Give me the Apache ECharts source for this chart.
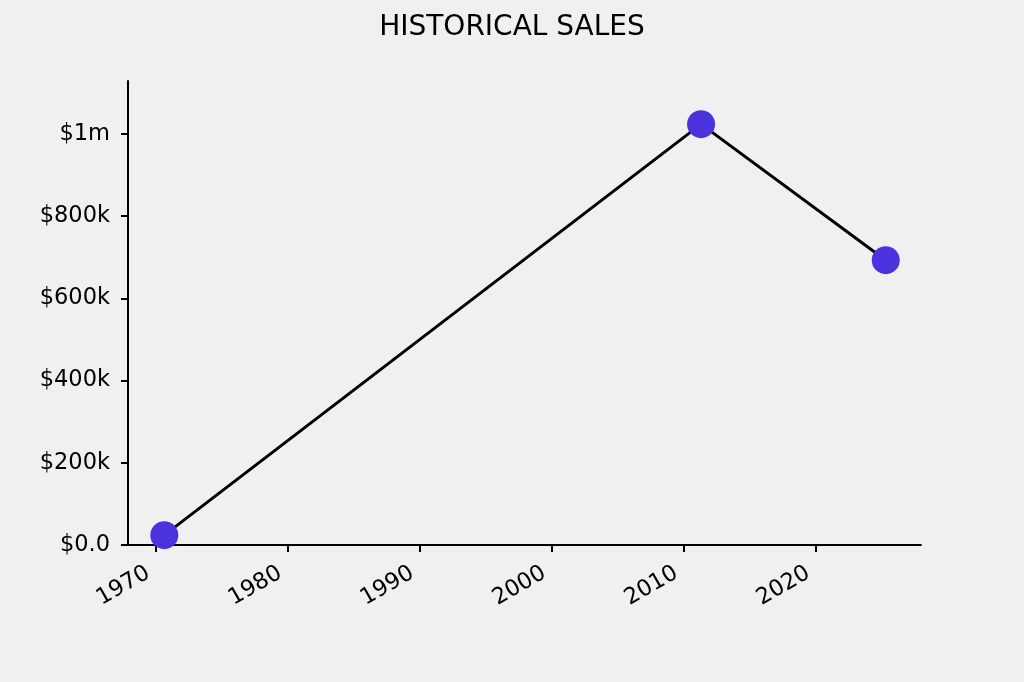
<!DOCTYPE html>
<html>
<head>
<meta charset="utf-8">
<script src="https://cdn.jsdelivr.net/npm/echarts@6/dist/echarts.min.js"></script>
<style>
html,body{margin:0;padding:0;background:#f0f0f0;}
#c{width:1024px;height:682px;}
</style>
</head>
<body>
<div id="c"></div>
<script>
const years = [1970.63, 2011.29, 2025.28];
const sales = [24000, 1024000, 693000];
const xTicks = [1970, 1980, 1990, 2000, 2010, 2020];
const yTicks = [0, 200000, 400000, 600000, 800000, 1000000];
const yTickLabels = ['$0.0', '$200k', '$400k', '$600k', '$800k', '$1m'];
const titleText = 'HISTORICAL SALES';

const font = 'DejaVu Sans';
const chart = echarts.init(document.getElementById('c'), null, {renderer: 'canvas'});
chart.setOption({
  backgroundColor: '#f0f0f0',
  animation: false,
  title: {
    text: titleText, left: 'center', top: 9,
    textStyle: {fontFamily: font, fontSize: 28, fontWeight: 'normal', color: '#000'}
  },
  grid: {left: 128, right: 103, top: 81, bottom: 137},
  xAxis: {
    type: 'value', min: 1967.88, max: 2027.95,
    splitLine: {show: false},
    axisLine: {show: true, lineStyle: {color: '#000', width: 2}},
    axisTick: {show: true, length: 7, lineStyle: {color: '#000', width: 2}, customValues: xTicks},
    axisLabel: {
      customValues: xTicks, rotate: 30, margin: 22, padding: [0, 9, 0, 0],
      fontFamily: font, fontSize: 22.5, color: '#000',
      formatter: v => String(Math.round(v))
    }
  },
  yAxis: {
    type: 'value', min: 0, max: 1129000,
    splitLine: {show: false},
    axisLine: {show: true, lineStyle: {color: '#000', width: 2}},
    axisTick: {show: true, length: 7, lineStyle: {color: '#000', width: 2}, customValues: yTicks},
    axisLabel: {
      customValues: yTicks, margin: 18,
      fontFamily: font, fontSize: 22.5, color: '#000',
      formatter: v => yTickLabels[yTicks.indexOf(v)] ?? ''
    }
  },
  series: [{
    type: 'line',
    data: years.map((y, i) => [y, sales[i]]),
    symbol: 'circle', symbolSize: 28,
    lineStyle: {color: '#000', width: 3},
    itemStyle: {color: '#4a33dd'},
    z: 5
  }]
});
</script>
</body>
</html>
